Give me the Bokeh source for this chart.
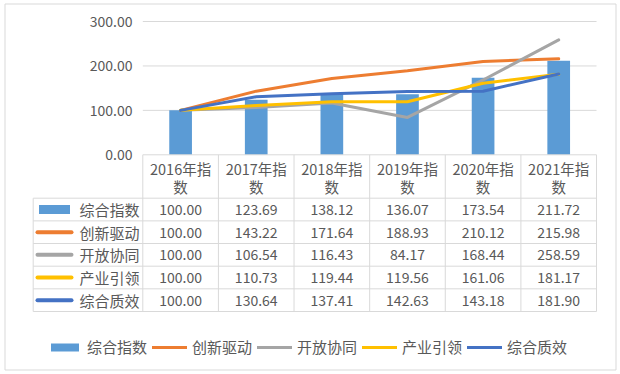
from bokeh.plotting import figure
from bokeh.models import Range1d, Legend, LegendItem
from bokeh.embed import file_html
from bokeh.resources import INLINE
from bokeh.core.properties import value

# ---------------- data ----------------
categories = ["2016年指数", "2017年指数", "2018年指数", "2019年指数", "2020年指数", "2021年指数"]
series_names = ["综合指数", "创新驱动", "开放协同", "产业引领", "综合质效"]
zonghe_zhishu = [100.00, 123.69, 138.12, 136.07, 173.54, 211.72]
chuangxin_qudong = [100.00, 143.22, 171.64, 188.93, 210.12, 215.98]
kaifang_xietong = [100.00, 106.54, 116.43, 84.17, 168.44, 258.59]
chanye_yinling = [100.00, 110.73, 119.44, 119.56, 161.06, 181.17]
zonghe_zhixiao = [100.00, 130.64, 137.41, 142.63, 143.18, 181.90]
y_ticks = [0, 100, 200, 300]

series_values = [zonghe_zhishu, chuangxin_qudong, kaifang_xietong, chanye_yinling, zonghe_zhixiao]
colors = ["#5B9BD5", "#ED7D31", "#A5A5A5", "#FFC000", "#4472C4"]

FONT = value("Noto Sans CJK SC")
TXT = "#595959"
GRID = "#D9D9D9"

W, H = 620, 374
# layout helpers (screen layout -> data space)
COL_W = 75.62          # px per category
PX_PER_UNIT = 0.4443   # px per value unit
ZERO_Y = 154.3         # px from top of canvas of value 0
LEFT_X = 142.3         # px of the left edge of first category

XS = -0.5 - LEFT_X / COL_W
XE = XS + W / COL_W
YE = ZERO_Y / PX_PER_UNIT
YS = YE - H / PX_PER_UNIT


def rx(px):
    return XS + px / COL_W


def ry(py):
    return YE - py / PX_PER_UNIT


p = figure(width=W, height=H, x_range=Range1d(XS, XE), y_range=Range1d(YS, YE),
           output_backend="svg", toolbar_location=None,
           x_axis_location=None, y_axis_location=None, min_border=0,
           outline_line_color=None, background_fill_color="white",
           border_fill_color="white")
p.grid.visible = False

# outer chart border
p.quad(left=[rx(4.5)], right=[rx(615.5)], top=[ry(3.5)], bottom=[ry(369.5)],
       fill_color=None, line_color=GRID, line_width=1)

xs = list(range(len(categories)))
left, right = -0.5, len(categories) - 0.5

# gridlines
grid_vals = [t for t in y_ticks if t > 0]
p.segment(x0=[left] * len(grid_vals), x1=[right] * len(grid_vals), y0=grid_vals, y1=grid_vals,
          line_color=GRID, line_width=1)

# y tick labels
p.text(x=[rx(132)] * len(y_ticks), y=y_ticks, text=[f"{t:.2f}" for t in y_ticks],
       text_align="right", text_baseline="middle", text_font=FONT,
       text_font_size="14px", text_color=TXT)

# bars
bar_r = p.vbar(x=xs, top=zonghe_zhishu, width=0.3, fill_color=colors[0], line_color=None)

# lines
line_rs = []
for vals, c in zip(series_values[1:], colors[1:]):
    r = p.line(xs, vals, line_color=c, line_width=3, line_cap="round", line_join="round")
    line_rs.append(r)

# ---------------- data table ----------------
row_edges_px = [197.7 + 22.66 * k for k in range(len(series_names) + 1)]
table_left = rx(32.7)
bottom = ry(row_edges_px[-1])

# horizontal lines
p.segment(x0=[left], x1=[right], y0=[0], y1=[0], line_color=GRID, line_width=1)
hy = [ry(v) for v in row_edges_px]
p.segment(x0=[table_left] * len(hy), x1=[right] * len(hy), y0=hy, y1=hy,
          line_color=GRID, line_width=1)
# vertical lines
vx = [left + k for k in range(len(categories) + 1)]
p.segment(x0=vx, x1=vx, y0=[0] * len(vx), y1=[bottom] * len(vx), line_color=GRID, line_width=1)
p.segment(x0=[table_left], x1=[table_left], y0=[hy[0]], y1=[bottom], line_color=GRID, line_width=1)

# header texts (wrapped in two lines)
p.text(x=xs, y=[ry(168.3)] * len(xs), text=[c[:-1] for c in categories],
       text_align="center", text_baseline="middle", text_font=FONT,
       text_font_size="14.5px", text_color=TXT)
p.text(x=xs, y=[ry(185.5)] * len(xs), text=[c[-1] for c in categories],
       text_align="center", text_baseline="middle", text_font=FONT,
       text_font_size="14.5px", text_color=TXT)

row_centers = [ry((row_edges_px[k] + row_edges_px[k + 1]) / 2) for k in range(len(series_names))]
for k, (name, vals) in enumerate(zip(series_names, series_values)):
    yc = row_centers[k]
    p.text(x=xs, y=[yc] * len(xs), text=[f"{v:.2f}" for v in vals],
           text_align="center", text_baseline="middle", text_font=FONT,
           text_font_size="14px", text_color=TXT)
    p.text(x=[rx(79)], y=[yc], text=[name], text_align="left", text_baseline="middle",
           text_font=FONT, text_font_size="15px", text_color=TXT)
    if k == 0:
        p.rect(x=[rx(54)], y=[yc], width=31, height=9, width_units="screen",
               height_units="screen", fill_color=colors[k], line_color=None)
    else:
        p.segment(x0=[rx(37)], x1=[rx(71)], y0=[yc], y1=[yc], line_color=colors[k],
                  line_width=4, line_cap="round")

# ---------------- legend ----------------
items = [LegendItem(label=series_names[0], renderers=[bar_r])]
for name, r in zip(series_names[1:], line_rs):
    items.append(LegendItem(label=name, renderers=[r]))
legend = Legend(items=items, orientation="horizontal", location=(47, 17),
                glyph_width=35, glyph_height=10, label_standoff=5, spacing=5,
                padding=0, margin=0, border_line_color=None, background_fill_alpha=0,
                label_text_font="Noto Sans CJK SC", label_text_font_size="15px",
                label_text_color=TXT)
p.add_layout(legend)

open("out.html", "w").write(file_html(p, INLINE))
